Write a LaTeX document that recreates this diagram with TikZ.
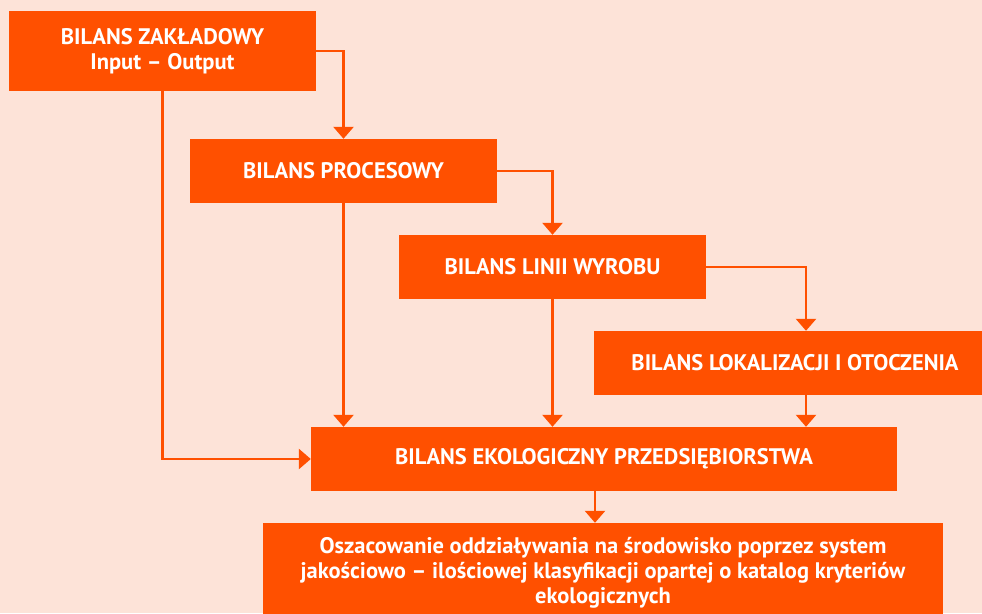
\documentclass[tikz,border=0pt]{standalone}
\usepackage{fontspec}
\setmainfont{PT Sans}
\usetikzlibrary{arrows.meta}
\definecolor{bilans}{RGB}{255,80,0}
\definecolor{tlo}{RGB}{253,227,216}
\tikzset{every picture/.style={x=1pt,y=-1pt},
  box/.style={fill=bilans,text=white,font=\bfseries\fontsize{22.5}{25}\selectfont,align=center,inner sep=0pt,minimum height=64pt},
  strz/.style={draw=bilans,line width=2.6pt,-{Triangle[width=20pt,length=12pt]}}}

\begin{document}
\begin{tikzpicture}

      \clip (0,0) rectangle (982,613);
      \fill[tlo] (0,0) rectangle (982,613);

      \node[box,minimum width=307pt,minimum height=80pt] (zaklad) at (162.5, 51){BILANS ZAKŁADOWY\\Input -- Output};
      \node[box,minimum width=307pt] (proces) at (343.5, 171){BILANS PROCESOWY};
      \node[box,minimum width=307pt] (linia) at (552.5, 267){BILANS LINII WYROBU};
      \node[box,minimum width=402pt] (lokal) at (795, 363){BILANS LOKALIZACJI I OTOCZENIA};
      \node[box,minimum width=586pt] (ekolog) at (604, 459){BILANS EKOLOGICZNY PRZEDSIĘBIORSTWA};
      \node[box,minimum width=680pt,minimum height=100pt] (ocena) at (603, 573){Oszacowanie oddziaływania na środowisko poprzez system\\jakościowo -- ilościowej klasyfikacji opartej o katalog kryteriów\\ekologicznych};

      \draw[strz](zaklad.east)-|(proces.north);
      \draw[strz](proces.east)-|(linia.north);
      \draw[strz](linia.east)-|([xshift=11pt]lokal.north);
      \draw[strz](zaklad.south)|-(ekolog.west);
      \draw[strz](proces.south)--(proces.south|-ekolog.north);
      \draw[strz](linia.south)--(linia.south|-ekolog.north);
      \draw[strz]([xshift=11pt]lokal.south)--([xshift=11pt]lokal.south|-ekolog.north);
      \draw[strz]([xshift=-9pt]ekolog.south)--([xshift=-9pt]ekolog.south|-ocena.north);
    \end{tikzpicture}
\end{document}
